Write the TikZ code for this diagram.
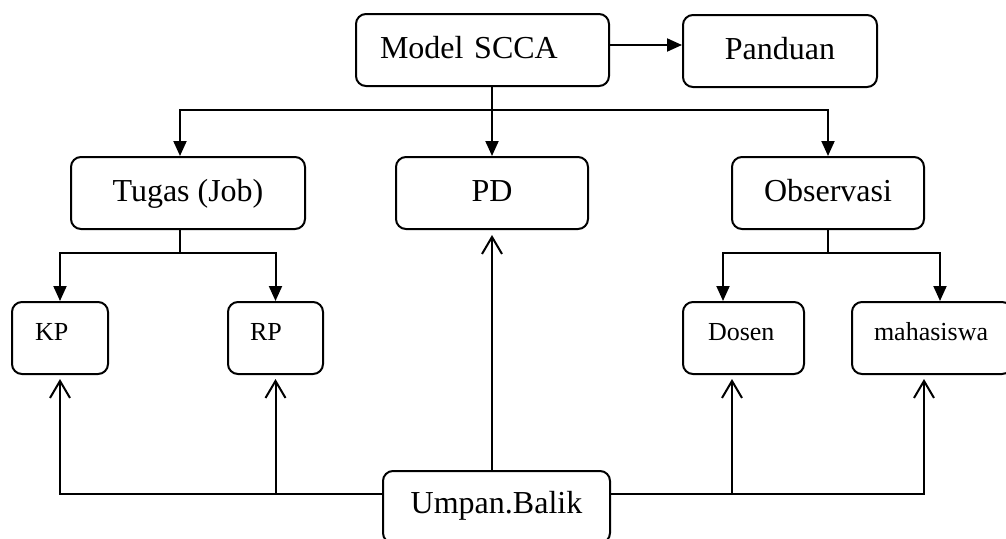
\documentclass[tikz,border=0pt]{standalone}
\usepackage{fontspec}
\setmainfont{Liberation Serif}
\usetikzlibrary{arrows.meta}
\begin{document}
\begin{tikzpicture}[x=1pt,y=-1pt,
  box/.style={draw, rounded corners=10pt, line width=2pt, minimum height=72pt, inner sep=0pt},
  big/.style={font=\fontsize{32}{38}\selectfont, text height=24pt, text depth=8pt},
  small/.style={font=\fontsize{26}{30}\selectfont, text height=20pt, text depth=16pt},
  conn/.style={line width=2pt},
  fillarrow/.style={conn, -{Triangle[width=13pt,length=15pt]}},
  openarrow/.style={conn, -{Straight Barb[width=20pt,length=17pt]}, shorten >=4pt}]
\useasboundingbox (0,0) rectangle (1006,538);
\clip (0,0) rectangle (1006,538);
% nodes
\node[box, big, text width=205pt, align=left, inner xsep=24pt] (model) at (482.5,50) {Model SCCA};
\node[box, big, minimum width=194pt] (panduan) at (780,51) {Panduan};
\node[box, big, minimum width=234pt] (tugas) at (188,193) {Tugas (Job)};
\node[box, big, minimum width=192pt] (pd) at (492,193) {PD};
\node[box, big, minimum width=192pt] (obs) at (828,193) {Observasi};
\node[box, small, text width=50pt, align=left, inner xsep=23pt] (kp) at (60,338) {KP};
\node[box, small, text width=51pt, align=left, inner xsep=22pt] (rp) at (275.5,338) {RP};
\node[box, small, text width=71pt, align=left, inner xsep=25pt] (dosen) at (743.5,338) {Dosen};
\node[box, small, text width=116pt, align=left, inner xsep=22pt] (maha) at (932,338) {mahasiswa};
\node[box, big, minimum width=227pt, text height=24pt, text depth=12pt] (umpan) at (496.5,507) {Umpan.Balik};
% coordinates
\coordinate (bus) at (492,110);
\coordinate (tb) at (180,253);
\coordinate (ob) at (828,253);
\coordinate (ubar) at (0,494);
% top connectors
\draw[fillarrow] ([yshift=5pt]model.east) -- ([yshift=5pt]model.east -| panduan.west);
\draw[fillarrow] (model.south -| pd.north) -- (pd.north);
\draw[fillarrow] (bus) -| ([xshift=-8pt]tugas.north);
\draw[fillarrow] (bus) -| (obs.north);
% tugas branch
\draw[conn] ([xshift=-8pt]tugas.south) -- (tb);
\draw[fillarrow] (tb) -| (kp.north);
\draw[fillarrow] (tb) -| (rp.north);
% observasi branch
\draw[conn] (obs.south) -- (ob);
\draw[fillarrow] (ob) -| ([xshift=-20.5pt]dosen.north);
\draw[fillarrow] (ob) -| ([xshift=8pt]maha.north);
% feedback
\draw[openarrow] ([yshift=13pt]umpan.west) -| (kp.south);
\draw[openarrow] (rp.south |- ubar) -- (rp.south);
\draw[openarrow] ([yshift=13pt]umpan.east) -| ([xshift=-8pt]maha.south);
\draw[openarrow] ([xshift=-11.5pt]dosen.south |- ubar) -- ([xshift=-11.5pt]dosen.south);
\draw[openarrow, shorten >=5pt] (pd.south |- umpan.north) -- (pd.south);
\end{tikzpicture}
\end{document}
